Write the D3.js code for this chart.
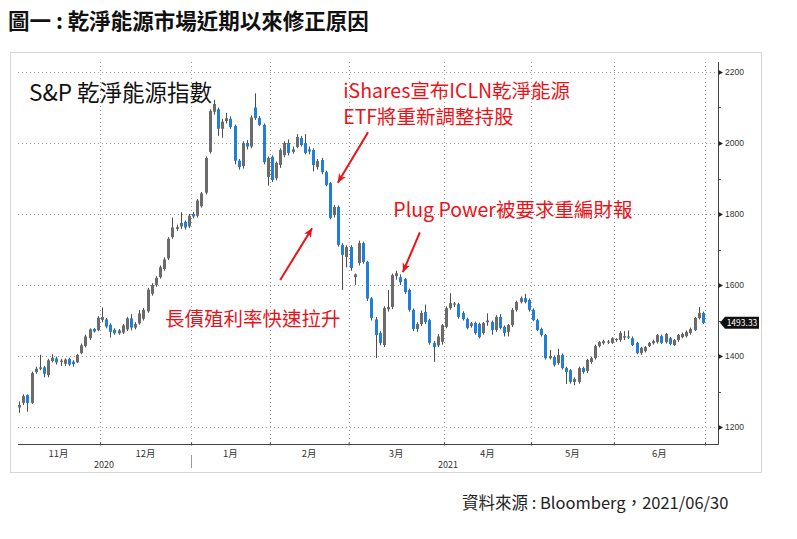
<!DOCTYPE html>
<html>
<head>
<meta charset="utf-8">
<script src="https://cdn.jsdelivr.net/npm/d3@7"></script>
<style>
  body { margin: 0; background: #fff; }
  svg { display: block; font-family: "Noto Sans CJK TC", "Noto Sans", sans-serif; }
</style>
</head>
<body>
<svg id="chart"></svg>
<script>
// Month labels and trading days in each month
const months = ['11月', '12月', '1月', '2月', '3月', '4月', '5月', '6月'];
const monthDays = [20, 22, 19, 19, 23, 21, 20, 22];
const years = ['2020', '2021'];
const yearMonths = [2, 6];

const yTicks = [1200, 1400, 1600, 1800, 2000, 2200];
const yMinor = [1300, 1500, 1700, 1900, 2100];

// Daily candles [open, high, low, close]
const candles = [
  // Nov
  [1255, 1272, 1240, 1262], [1268, 1292, 1262, 1287], [1290, 1292, 1243, 1268], [1268, 1356, 1265, 1352],
  [1355, 1370, 1350, 1364], [1364, 1403, 1360, 1368], [1368, 1372, 1340, 1350], [1346, 1392, 1340, 1388],
  [1386, 1405, 1382, 1395], [1393, 1398, 1376, 1382], [1383, 1392, 1372, 1387], [1378, 1393, 1372, 1390],
  [1392, 1395, 1372, 1376], [1384, 1388, 1370, 1377], [1382, 1406, 1380, 1403], [1408, 1435, 1405, 1430],
  [1428, 1460, 1424, 1455], [1450, 1478, 1445, 1475], [1476, 1479, 1466, 1469], [1473, 1512, 1470, 1508],
  // Dec
  [1502, 1537, 1495, 1510], [1503, 1507, 1478, 1483], [1488, 1492, 1452, 1468], [1474, 1478, 1460, 1464],
  [1464, 1476, 1460, 1472], [1466, 1490, 1462, 1486], [1475, 1510, 1470, 1506], [1506, 1518, 1472, 1480],
  [1480, 1495, 1475, 1490], [1492, 1530, 1488, 1520], [1505, 1535, 1500, 1530], [1526, 1592, 1522, 1587],
  [1575, 1605, 1570, 1600], [1600, 1625, 1595, 1620], [1622, 1655, 1618, 1650], [1645, 1678, 1640, 1672],
  [1675, 1735, 1670, 1730], [1735, 1790, 1730, 1762], [1758, 1770, 1752, 1763], [1765, 1805, 1758, 1775],
  [1778, 1782, 1756, 1762], [1765, 1800, 1760, 1795],
  // Jan
  [1800, 1806, 1788, 1793], [1795, 1842, 1790, 1838], [1822, 1862, 1818, 1858], [1860, 1962, 1855, 1958],
  [1975, 2095, 1970, 2090], [2088, 2122, 2080, 2110], [2095, 2100, 2020, 2040], [2040, 2068, 2015, 2060],
  [2062, 2085, 2055, 2070], [2068, 2075, 2040, 2045], [2048, 2052, 1940, 1950], [1950, 1955, 1925, 1932],
  [1935, 2005, 1928, 2000], [2000, 2008, 1982, 1990], [1990, 2078, 1985, 2072], [2100, 2140, 2065, 2070],
  [2070, 2076, 2048, 2051], [2051, 2055, 1940, 1946], [1904, 1962, 1880, 1958],
  // Feb
  [1961, 1965, 1890, 1896], [1901, 1948, 1895, 1944], [1938, 1985, 1930, 1980], [1966, 2005, 1960, 2000],
  [2000, 2010, 1965, 1972], [1975, 1990, 1970, 1982], [1989, 2025, 1985, 2017], [2014, 2020, 1990, 1994],
  [2000, 2025, 1968, 1972], [1982, 1990, 1968, 1976], [1980, 1985, 1920, 1938], [1932, 1955, 1925, 1949],
  [1952, 1958, 1912, 1918], [1918, 1922, 1878, 1882], [1887, 1890, 1785, 1789], [1797, 1825, 1790, 1820],
  [1820, 1824, 1708, 1713], [1713, 1718, 1586, 1685], [1679, 1712, 1650, 1707],
  // Mar
  [1707, 1712, 1640, 1648], [1622, 1632, 1600, 1630], [1662, 1725, 1655, 1718], [1718, 1722, 1660, 1665],
  [1665, 1668, 1555, 1562], [1562, 1566, 1500, 1507], [1503, 1510, 1394, 1459], [1465, 1470, 1430, 1437],
  [1431, 1540, 1425, 1535], [1532, 1586, 1525, 1538], [1538, 1632, 1532, 1628], [1625, 1640, 1615, 1633],
  [1622, 1630, 1600, 1608], [1617, 1620, 1575, 1580], [1586, 1590, 1525, 1530], [1530, 1534, 1470, 1476],
  [1476, 1495, 1468, 1490], [1490, 1528, 1485, 1521], [1524, 1545, 1490, 1496], [1501, 1505, 1432, 1437],
  [1437, 1442, 1383, 1425], [1430, 1462, 1425, 1455], [1440, 1490, 1432, 1487],
  // Apr
  [1482, 1540, 1478, 1535], [1535, 1577, 1530, 1549], [1545, 1552, 1538, 1548], [1546, 1550, 1505, 1510],
  [1521, 1526, 1500, 1504], [1504, 1508, 1475, 1479], [1485, 1496, 1480, 1492], [1493, 1497, 1460, 1465],
  [1490, 1494, 1450, 1453], [1465, 1496, 1460, 1493], [1495, 1520, 1485, 1500], [1496, 1500, 1460, 1473],
  [1473, 1515, 1468, 1510], [1510, 1518, 1475, 1479], [1482, 1486, 1455, 1465], [1468, 1490, 1455, 1487],
  [1487, 1535, 1482, 1530], [1530, 1556, 1525, 1552], [1552, 1568, 1548, 1563], [1563, 1575, 1548, 1552],
  [1558, 1562, 1525, 1530],
  // May
  [1530, 1534, 1498, 1501], [1501, 1505, 1470, 1473], [1476, 1480, 1455, 1459], [1459, 1462, 1390, 1394],
  [1394, 1417, 1390, 1400], [1397, 1402, 1370, 1375], [1380, 1420, 1375, 1403], [1403, 1407, 1362, 1366],
  [1366, 1370, 1321, 1355], [1360, 1363, 1322, 1327], [1327, 1340, 1318, 1335], [1327, 1370, 1322, 1366],
  [1366, 1370, 1350, 1355], [1358, 1392, 1352, 1389], [1383, 1398, 1378, 1394], [1394, 1432, 1390, 1428],
  [1428, 1442, 1424, 1439], [1436, 1446, 1432, 1442], [1440, 1445, 1434, 1441], [1437, 1453, 1434, 1450],
  // Jun
  [1446, 1450, 1440, 1448], [1445, 1470, 1440, 1465], [1452, 1470, 1445, 1456], [1455, 1472, 1448, 1452],
  [1450, 1455, 1428, 1431], [1437, 1440, 1405, 1408], [1408, 1426, 1403, 1423], [1414, 1428, 1410, 1425],
  [1428, 1440, 1425, 1437], [1436, 1446, 1432, 1442], [1439, 1462, 1435, 1459], [1456, 1460, 1434, 1437],
  [1439, 1465, 1435, 1462], [1450, 1454, 1430, 1434], [1431, 1448, 1428, 1445], [1445, 1462, 1440, 1459],
  [1453, 1466, 1450, 1462], [1456, 1472, 1452, 1468], [1465, 1480, 1460, 1476], [1473, 1510, 1470, 1507],
  [1507, 1538, 1503, 1521], [1521, 1525, 1490, 1493.33]
];

// Annotations: text anchored at [day index, value], arrows from tail to tip
const notes = [
  { lines: ['iShares宣布ICLN乾淨能源', 'ETF將重新調整持股'], at: [78.2, 2127], tail: [84.2, 2030], tip: [76.9, 1888] },
  { lines: ['Plug Power被要求重編財報'], at: [90.3, 1792], tail: [96.7, 1748], tip: [92.6, 1636] },
  { lines: ['長債殖利率快速拉升'], at: [35.2, 1484], tail: [63.0, 1614], tip: [70.7, 1760] }
];

const W = 797, H = 539;
const red = '#ea1219', up = '#6b6b6b', down = '#1f7fd9', wick = '#4d4d4d';

const svg = d3.select('#chart').attr('width', W).attr('height', H);
svg.append('rect').attr('width', W).attr('height', H).attr('fill', '#fff');

// Page title
svg.append('text')
  .attr('x', 8).attr('y', 29)
  .attr('font-size', 21.5).attr('font-weight', 'bold').attr('fill', '#111')
  .text('圖一 : 乾淨能源市場近期以來修正原因');

// Chart frame
svg.append('rect')
  .attr('x', 10.5).attr('y', 52.5).attr('width', 751).attr('height', 420)
  .attr('fill', '#fff').attr('stroke', '#d6d6d6');

const monthStart = [0, ...d3.cumsum(monthDays)];
const nDays = monthStart[monthStart.length - 1];

const plot = { left: 18, right: 718, top: 62, bottom: 444 };

const x = d3.scaleLinear().domain([0, nDays]).range([17, 705]);
const y = d3.scaleLinear().domain([1200, 2200]).range([427, 72]);

const g = svg.append('g');

// Dotted grid
g.selectAll('.hgrid')
  .data(yTicks)
  .join('line')
  .attr('class', 'hgrid')
  .attr('x1', plot.left).attr('x2', plot.right)
  .attr('y1', d => Math.round(y(d)) + 0.5).attr('y2', d => Math.round(y(d)) + 0.5)
  .attr('stroke', '#9a9a9a').attr('stroke-width', 1).attr('stroke-dasharray', '1,3');

g.selectAll('.vgrid')
  .data(monthStart.slice(1))
  .join('line')
  .attr('class', 'vgrid')
  .attr('x1', d => Math.round(x(d)) + 0.5).attr('x2', d => Math.round(x(d)) + 0.5)
  .attr('y1', plot.top).attr('y2', plot.bottom)
  .attr('stroke', '#9a9a9a').attr('stroke-width', 1).attr('stroke-dasharray', '1,3');

// Bottom axis
const xAxis = d3.axisBottom(x)
  .tickValues(monthStart.slice(1))
  .tickFormat('')
  .tickSize(3);

g.append('g')
  .attr('transform', `translate(0,${plot.bottom})`)
  .call(xAxis)
  .call(a => a.select('.domain').remove())
  .call(a => a.selectAll('line').attr('stroke', '#444').attr('transform', 'translate(0,-1.5)'));

g.append('line')
  .attr('x1', plot.left).attr('x2', plot.right + 0.5)
  .attr('y1', plot.bottom + 0.5).attr('y2', plot.bottom + 0.5)
  .attr('stroke', '#444');

// Month labels centred in each month
g.selectAll('.month')
  .data(months)
  .join('text')
  .attr('class', 'month')
  .attr('x', (d, i) => x((monthStart[i] + monthStart[i + 1]) / 2))
  .attr('y', 457)
  .attr('text-anchor', 'middle')
  .attr('font-size', 9.5).attr('fill', '#333')
  .text(d => d);

// Year labels
let m0 = 0;
const yearSpans = years.map((yr, i) => {
  const span = { yr, from: monthStart[m0], to: monthStart[m0 + yearMonths[i]] };
  m0 += yearMonths[i];
  return span;
});

g.selectAll('.year')
  .data(yearSpans)
  .join('text')
  .attr('class', 'year')
  .attr('x', d => x((d.from + d.to) / 2))
  .attr('y', 468)
  .attr('text-anchor', 'middle')
  .attr('font-size', 9).attr('fill', '#333')
  .text(d => d.yr);

g.selectAll('.yearsep')
  .data(yearSpans.slice(1))
  .join('line')
  .attr('class', 'yearsep')
  .attr('x1', d => Math.round(x(d.from)) + 0.5).attr('x2', d => Math.round(x(d.from)) + 0.5)
  .attr('y1', 455).attr('y2', 468)
  .attr('stroke', '#999');

// Right value axis
g.append('line')
  .attr('x1', plot.right + 0.5).attr('x2', plot.right + 0.5)
  .attr('y1', plot.top).attr('y2', plot.bottom + 0.5)
  .attr('stroke', '#444');

const yAxis = d3.axisRight(y)
  .tickValues(yTicks)
  .tickFormat(d3.format('d'))
  .tickSize(0)
  .tickPadding(7);

g.append('g')
  .attr('transform', `translate(${plot.right},0)`)
  .call(yAxis)
  .call(a => a.select('.domain').remove())
  .call(a => a.selectAll('text').attr('font-size', 8.5).attr('fill', '#333'))
  .call(a => a.selectAll('.tick').append('path')
    .attr('d', 'M0.5,-2.5 L5,0 L0.5,2.5 Z')
    .attr('fill', '#222'));

g.selectAll('.minor')
  .data(yMinor)
  .join('line')
  .attr('class', 'minor')
  .attr('x1', plot.right).attr('x2', plot.right + 3)
  .attr('y1', d => Math.round(y(d)) + 0.5).attr('y2', d => Math.round(y(d)) + 0.5)
  .attr('stroke', '#444');

// Candles
const bw = 3;
const cx = i => x(i + 0.5);

const candle = g.append('g').selectAll('.candle')
  .data(candles)
  .join('g')
  .attr('class', 'candle');

candle.append('line')
  .attr('x1', (d, i) => Math.round(cx(i)) + 0.5)
  .attr('x2', (d, i) => Math.round(cx(i)) + 0.5)
  .attr('y1', d => y(d[1]))
  .attr('y2', d => y(d[2]))
  .attr('stroke', wick).attr('stroke-width', 1);

candle.append('rect')
  .attr('x', (d, i) => Math.round(cx(i)) + 0.5 - bw / 2)
  .attr('width', bw)
  .attr('y', d => y(Math.max(d[0], d[3])))
  .attr('height', d => Math.max(1.2, Math.abs(y(d[0]) - y(d[3]))))
  .attr('fill', d => d[3] >= d[0] ? up : down);

// Last price tag
const last = candles[candles.length - 1][3];
const ly = y(last);
const tag = g.append('g').attr('transform', `translate(${plot.right + 2},${ly})`);
tag.append('path')
  .attr('d', 'M0,0 L5,-6 L39,-6 L39,6 L5,6 Z')
  .attr('fill', '#111');
tag.append('text')
  .attr('x', 22).attr('y', 3.2)
  .attr('text-anchor', 'middle')
  .attr('font-size', 8.5).attr('fill', '#fff')
  .text(d3.format('.2f')(last));

// Series label
g.append('text')
  .attr('x', 29).attr('y', 101)
  .attr('font-size', 22.5).attr('fill', '#111')
  .text('S&P 乾淨能源指數');

// Red annotations
svg.append('defs').append('marker')
  .attr('id', 'arrow-red')
  .attr('markerUnits', 'userSpaceOnUse')
  .attr('viewBox', '0 0 10 10')
  .attr('refX', 9).attr('refY', 5)
  .attr('markerWidth', 10).attr('markerHeight', 10)
  .attr('orient', 'auto')
  .append('path')
  .attr('d', 'M0,1 L9,5 L0,9 L2.5,5 Z')
  .attr('fill', red);

const note = g.selectAll('.note')
  .data(notes)
  .join('g')
  .attr('class', 'note');

note.append('line')
  .attr('x1', d => cx(d.tail[0])).attr('y1', d => y(d.tail[1]))
  .attr('x2', d => cx(d.tip[0])).attr('y2', d => y(d.tip[1]))
  .attr('stroke', red).attr('stroke-width', 2)
  .attr('marker-end', 'url(#arrow-red)');

note.append('text')
  .attr('x', d => cx(d.at[0]))
  .attr('y', d => y(d.at[1]))
  .attr('font-size', 19.5).attr('fill', red)
  .selectAll('tspan')
  .data(d => d.lines.map((t, k) => ({ t, k, x: cx(d.at[0]) })))
  .join('tspan')
  .attr('x', d => d.x)
  .attr('dy', d => d.k === 0 ? 0 : 26.5)
  .text(d => d.t);

// Source
svg.append('text')
  .attr('x', 462).attr('y', 509)
  .attr('font-size', 16.5).attr('fill', '#222')
  .text('資料來源 : Bloomberg，2021/06/30');
</script>
</body>
</html>
